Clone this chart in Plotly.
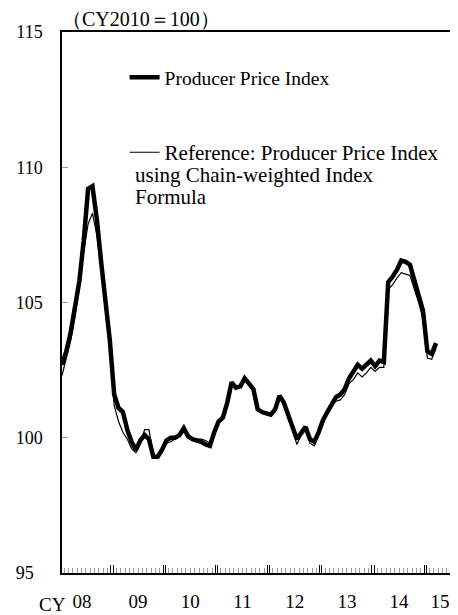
import plotly.graph_objects as go

# Monthly data, Jan 2008 - Mar 2015 (CY2010 = 100)
months = [f"{y}-{m:02d}" for y in range(2008, 2016) for m in range(1, 13)][:87]

ppi = [
    102.7, 103.2, 103.9, 104.8, 105.8, 107.3, 109.2, 109.3, 108.1, 106.5, 105.1, 103.6,
    101.6, 101.1, 100.95, 100.3, 99.85, 99.55, 99.9, 100.1, 99.95, 99.3, 99.3, 99.55,
    99.9, 100.0, 100.0, 100.1, 100.35, 100.05, 99.95, 99.9, 99.85, 99.75, 99.7, 100.2,
    100.6, 100.75, 101.3, 102.05, 101.85, 101.9, 102.2, 102.0, 101.8, 101.05, 100.95, 100.9,
    100.85, 101.05, 101.55, 101.3, 100.9, 100.4, 99.95, 100.2, 100.4, 99.95, 99.85, 100.2,
    100.65, 100.95, 101.25, 101.5, 101.6, 101.8, 102.2, 102.45, 102.7, 102.55, 102.7, 102.85,
    102.65, 102.85, 102.8, 105.75, 105.95, 106.2, 106.55, 106.5, 106.4, 105.85, 105.3, 104.7,
    103.2, 103.1, 103.5,
]

chain = [
    102.3, 102.9, 103.6, 104.5, 105.6, 106.9, 107.9, 108.3, 107.5, 106.2, 104.8, 103.2,
    101.2, 100.6, 100.2, 99.95, 99.6, 99.45, 99.8, 100.3, 100.3, 99.35, 99.3, 99.6,
    99.8, 99.85, 99.95, 100.1, 100.3, 100.0, 99.95, 99.95, 99.95, 99.9, 99.8, 100.2,
    100.6, 100.7, 101.25, 102.0, 101.85, 101.9, 102.15, 101.95, 101.75, 101.0, 100.9, 100.85,
    100.8, 101.0, 101.5, 101.25, 100.85, 100.3, 99.75, 100.1, 100.3, 99.8, 99.7, 100.1,
    100.6, 100.9, 101.2, 101.35, 101.4, 101.6, 102.0, 102.15, 102.4, 102.25, 102.4, 102.6,
    102.45, 102.6, 102.6, 105.5, 105.65, 105.9, 106.1, 106.05, 106.0, 105.5, 105.0, 104.4,
    102.95, 102.9, 103.3,
]

year_labels = ["08", "09", "10", "11", "12", "13", "14", "15"]
y_ticks = [95, 100, 105, 110, 115]
y_ticktext = ["95\u2007", "100", "105", "110", "115"]

name_ppi = "Producer Price Index"
name_chain = "Reference: Producer Price Index"
chain_more = ["using Chain-weighted Index", "Formula"]

FONT = "Liberation Serif, Times New Roman, serif"

idx = list(range(len(months)))

fig = go.Figure()
fig.add_trace(go.Scatter(x=idx, y=ppi, mode="lines", name=name_ppi,
                         line=dict(color="black", width=4.5), legend="legend"))
fig.add_trace(go.Scatter(x=idx, y=chain, mode="lines", name=name_chain, xaxis="x2",
                         line=dict(color="black", width=1.2), legend="legend2"))

n_years = len(year_labels)
year_bounds = [12 * k - 0.5 for k in range(1, n_years)]
double_ticks = [v + d for v in year_bounds for d in (-0.25, 0.25)]
minor_ticks = [k + 0.5 for k in range(-1, 90) if (k + 0.5 + 0.5) % 12 != 0]
label_pos = [12 * k + 5.5 for k in range(n_years)]
label_pos[0] = 4.6
label_pos[-1] = 86.9

xr = [0, 89.9]

# page has an 8px body margin: plot area in page px is 62..453 x 32..573
fig.update_layout(
    width=450, height=607,
    margin=dict(l=54, r=5, t=24, b=42, autoexpand=False),
    plot_bgcolor="white", paper_bgcolor="white",
    font=dict(family=FONT, size=19, color="black"),
    showlegend=True,
    xaxis=dict(
        range=xr, showgrid=False, zeroline=False, automargin=False,
        showline=True, mirror=True, linecolor="black", linewidth=1.5,
        tickmode="array", tickvals=double_ticks, ticktext=[""] * len(double_ticks),
        ticks="inside", ticklen=8, tickwidth=1, tickcolor="black",
        minor=dict(tickmode="array", tickvals=minor_ticks, ticks="inside",
                   ticklen=5, tickwidth=1, tickcolor="#9a9a9a", showgrid=False),
    ),
    xaxis2=dict(
        range=xr, overlaying="x", anchor="y", side="bottom", automargin=False,
        showgrid=False, zeroline=False, showline=False,
        tickmode="array", tickvals=label_pos, ticktext=year_labels,
        ticks="", ticklabelstandoff=15, ticklabeloverflow="allow",
        tickfont=dict(size=19),
    ),
    yaxis=dict(
        range=[95, 115], showgrid=False, zeroline=False, automargin=False,
        showline=True, mirror=True, linecolor="black", linewidth=1.5,
        tickmode="array", tickvals=y_ticks, ticktext=y_ticktext,
        ticks="inside", ticklen=6, tickcolor="#9a9a9a",
        ticklabelstandoff=14, tickfont=dict(size=18),
    ),
    legend=dict(x=0.16, y=0.952, xanchor="left", yanchor="top",
                bgcolor="rgba(0,0,0,0)", itemwidth=30,
                font=dict(family=FONT, size=19.5)),
    legend2=dict(x=0.16, y=0.815, xanchor="left", yanchor="top",
                 bgcolor="rgba(0,0,0,0)", itemwidth=30,
                 font=dict(family=FONT, size=21)),
    annotations=[
        dict(text="（CY2010＝100）", xref="paper", yref="paper", x=-0.005, y=1.0,
             xanchor="left", yanchor="bottom", showarrow=False,
             font=dict(family=FONT, size=20)),
        dict(text="CY", xref="paper", yref="paper", x=0.015, y=0, yshift=-31,
             xanchor="right", yanchor="middle", showarrow=False,
             font=dict(family=FONT, size=19)),
        dict(text=chain_more[0], xref="paper", yref="paper", x=0.1816, y=0.7357,
             xanchor="left", yanchor="middle", showarrow=False,
             font=dict(family=FONT, size=21)),
        dict(text=chain_more[1], xref="paper", yref="paper", x=0.1816, y=0.695,
             xanchor="left", yanchor="middle", showarrow=False,
             font=dict(family=FONT, size=21)),
    ],
)

fig.write_html("out.html")
